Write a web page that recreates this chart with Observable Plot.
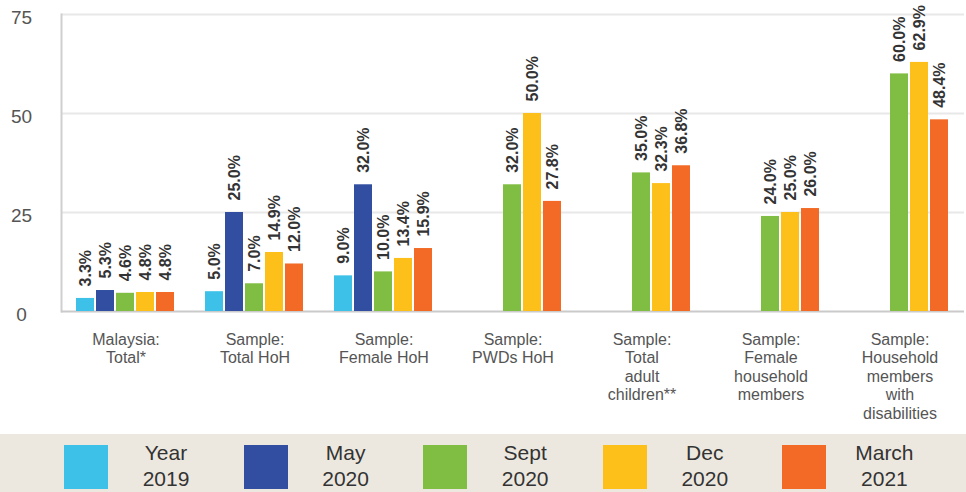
<!DOCTYPE html>
<html>
<head>
<meta charset="utf-8">
<script src="https://cdn.jsdelivr.net/npm/d3@7"></script>
<script src="https://cdn.jsdelivr.net/npm/@observablehq/plot@0.6"></script>
<style>
  html, body { margin: 0; padding: 0; background: #fff; }
  #wrap { width: 966px; font-family: "Liberation Sans", Arial, Helvetica, sans-serif; }
  #legend { position: relative; width: 966px; height: 58px; background: #ede8df; }
  .item { position: absolute; top: 0; height: 58px; }
  .sw { position: absolute; left: 0; top: 11px; width: 44px; height: 44px; }
  .lab { position: absolute; left: 44px; top: 6px; width: 116px; text-align: center;
         font-size: 21px; line-height: 26px; color: #333; white-space: pre; }
</style>
</head>
<body>
<div id="wrap">
  <div id="chart"></div>
  <div id="legend"></div>
</div>
<script>
const categories = [
  "Malaysia:\nTotal*",
  "Sample:\nTotal HoH",
  "Sample:\nFemale HoH",
  "Sample:\nPWDs HoH",
  "Sample:\nTotal\nadult\nchildren**",
  "Sample:\nFemale\nhousehold\nmembers",
  "Sample:\nHousehold\nmembers\nwith\ndisabilities"
];
const series = ["Year 2019", "May 2020", "Sept 2020", "Dec 2020", "March 2021"];
const colors = ["#3ec1e8", "#324ea1", "#80bd43", "#fdbf1a", "#f26a25"];

const year2019  = [3.3, 5.0, 9.0, null, null, null, null];
const may2020   = [5.3, 25.0, 32.0, null, null, null, null];
const sept2020  = [4.6, 7.0, 10.0, 32.0, 35.0, 24.0, 60.0];
const dec2020   = [4.8, 14.9, 13.4, 50.0, 32.3, 25.0, 62.9];
const march2021 = [4.8, 12.0, 15.9, 27.8, 36.8, 26.0, 48.4];
const yTicks = [0, 25, 50, 75];

const seriesValues = [year2019, may2020, sept2020, dec2020, march2021];
const rows = [];
categories.forEach((c, i) => {
  series.forEach((s, j) => {
    const v = seriesValues[j][i];
    if (v != null) rows.push({category: c, series: s, value: v});
  });
});

const chart = Plot.plot({
  width: 966,
  height: 434,
  marginLeft: 58,
  marginRight: 0,
  marginTop: 14,
  marginBottom: 123,
  style: {fontFamily: "'Liberation Sans', Arial, Helvetica, sans-serif", background: "white", overflow: "visible"},
  fx: {domain: categories, padding: 0},
  x: {domain: series, paddingInner: 0.095, paddingOuter: 0.636, axis: null},
  y: {domain: [0, 75], axis: null},
  color: {domain: series, range: colors},
  marks: [
    Plot.gridY(yTicks.slice(1), {stroke: "#e8e8e8", strokeWidth: 2, strokeOpacity: 1}),
    Plot.frame({anchor: "left", stroke: "#cfcfcf", strokeWidth: 2, facetAnchor: "left"}),
    Plot.ruleY([0], {stroke: "#cacaca", strokeWidth: 2}),
    Plot.barY(rows, {fx: "category", x: "series", y: "value", fill: "series"}),
    Plot.text(rows, {
      fx: "category", x: "series", y: "value",
      text: d => d.value.toFixed(1) + "%",
      rotate: -90, textAnchor: "start", dy: -12,
      fontSize: 16, fontWeight: "bold", fill: "#333"
    }),
    Plot.axisY({ticks: yTicks, tickSize: 0, tickPadding: 40, textAnchor: "middle", dy: 3,
                fontSize: 19, fill: "#555", label: null}),
    Plot.axisFx({anchor: "bottom", tickSize: 0, tickPadding: 20, fontSize: 16,
                 fill: "#555", lineHeight: 1.16, label: null})
  ]
});
document.getElementById("chart").appendChild(chart);

const legend = d3.select("#legend");
series.forEach((s, i) => {
  const item = legend.append("div").attr("class", "item").style("left", (64 + i * 179.6) + "px");
  item.append("div").attr("class", "sw").style("background", colors[i]);
  const k = s.indexOf(" ");
  item.append("div").attr("class", "lab").text(s.slice(0, k) + "\n" + s.slice(k + 1));
});
</script>
</body>
</html>
